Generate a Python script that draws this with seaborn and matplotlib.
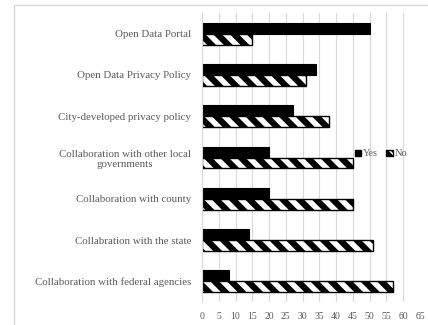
import matplotlib
matplotlib.use("Agg")
import matplotlib.pyplot as plt
import matplotlib.patches as mpatches
import seaborn as sns
import pandas as pd

categories = [
    "Open Data Portal",
    "Open Data Privacy Policy",
    "City-developed privacy policy",
    "Collaboration with other local\ngovernments",
    "Collaboration with county",
    "Collabration with the state",
    "Collaboration with federal agencies",
]
yes_values = [50, 34, 27, 20, 20, 14, 8]
no_values = [15, 31, 38, 45, 45, 51, 57]
series_names = ["Yes", "No"]
x_ticks = list(range(0, 70, 5))

df = pd.DataFrame({
    "category": categories * 2,
    "value": yes_values + no_values,
    "series": [series_names[0]] * len(categories) + [series_names[1]] * len(categories),
})

sns.set_theme(style="white")
plt.rcParams["font.family"] = ["Liberation Serif", "DejaVu Serif"]
plt.rcParams["hatch.linewidth"] = 4.5

W, H = 428, 325
fig = plt.figure(figsize=(W / 100, H / 100), dpi=100)
ax = fig.add_axes([202 / W, (H - 302) / H, (420 - 202) / W, (302 - 13) / H])

# chart border (left and top visible)
fig.patches.append(mpatches.Rectangle((14 / W, -0.1), 1.2, (H - 5) / H + 0.1,
                                      transform=fig.transFigure, fill=False,
                                      edgecolor="#d9d9d9", linewidth=1.0, zorder=0))

sns.barplot(data=df, y="category", x="value", hue="series", order=categories,
            hue_order=series_names, palette=["black", "white"], width=0.53,
            orient="h", ax=ax, legend=False, saturation=1, edgecolor="black",
            linewidth=0.8)

for p in ax.containers[0]:
    p.set_facecolor("black")
    p.set_edgecolor("black")
for p in ax.containers[1]:
    p.set_facecolor("white")
    p.set_edgecolor("black")
    p.set_hatch("\\\\")
    p.set_linewidth(1.0)

ax.set_xlim(0, 65)
ax.set_xticks(x_ticks)
ax.set_xticklabels([str(t) for t in x_ticks], fontsize=7, color="#595959")
ax.tick_params(axis="x", length=0, pad=7)
ax.tick_params(axis="y", length=0, pad=8)
for lbl in ax.get_yticklabels():
    lbl.set_fontsize(7.8)
    lbl.set_color("#595959")
    lbl.set_multialignment("center")
ax.set_xlabel("")
ax.set_ylabel("")
ax.grid(axis="x", color="#d9d9d9", linewidth=0.8)
ax.set_axisbelow(True)
for s in ["top", "right", "bottom"]:
    ax.spines[s].set_visible(False)
ax.spines["left"].set_color("#d9d9d9")
ax.spines["left"].set_linewidth(0.8)

handles = [
    mpatches.Patch(facecolor="black", edgecolor="black", label="Yes"),
    mpatches.Patch(facecolor="white", edgecolor="black", hatch="\\\\\\", label="No"),
]
fig.legend(handles=handles, loc="center", bbox_to_anchor=(381 / W, (H - 154) / H),
           ncol=2, frameon=False, fontsize=7.5, handlelength=0.6, handleheight=0.6,
           handletextpad=0.2, columnspacing=0.8, labelcolor="#595959",
           borderaxespad=0, borderpad=0)

fig.savefig("out.png", dpi=100)
